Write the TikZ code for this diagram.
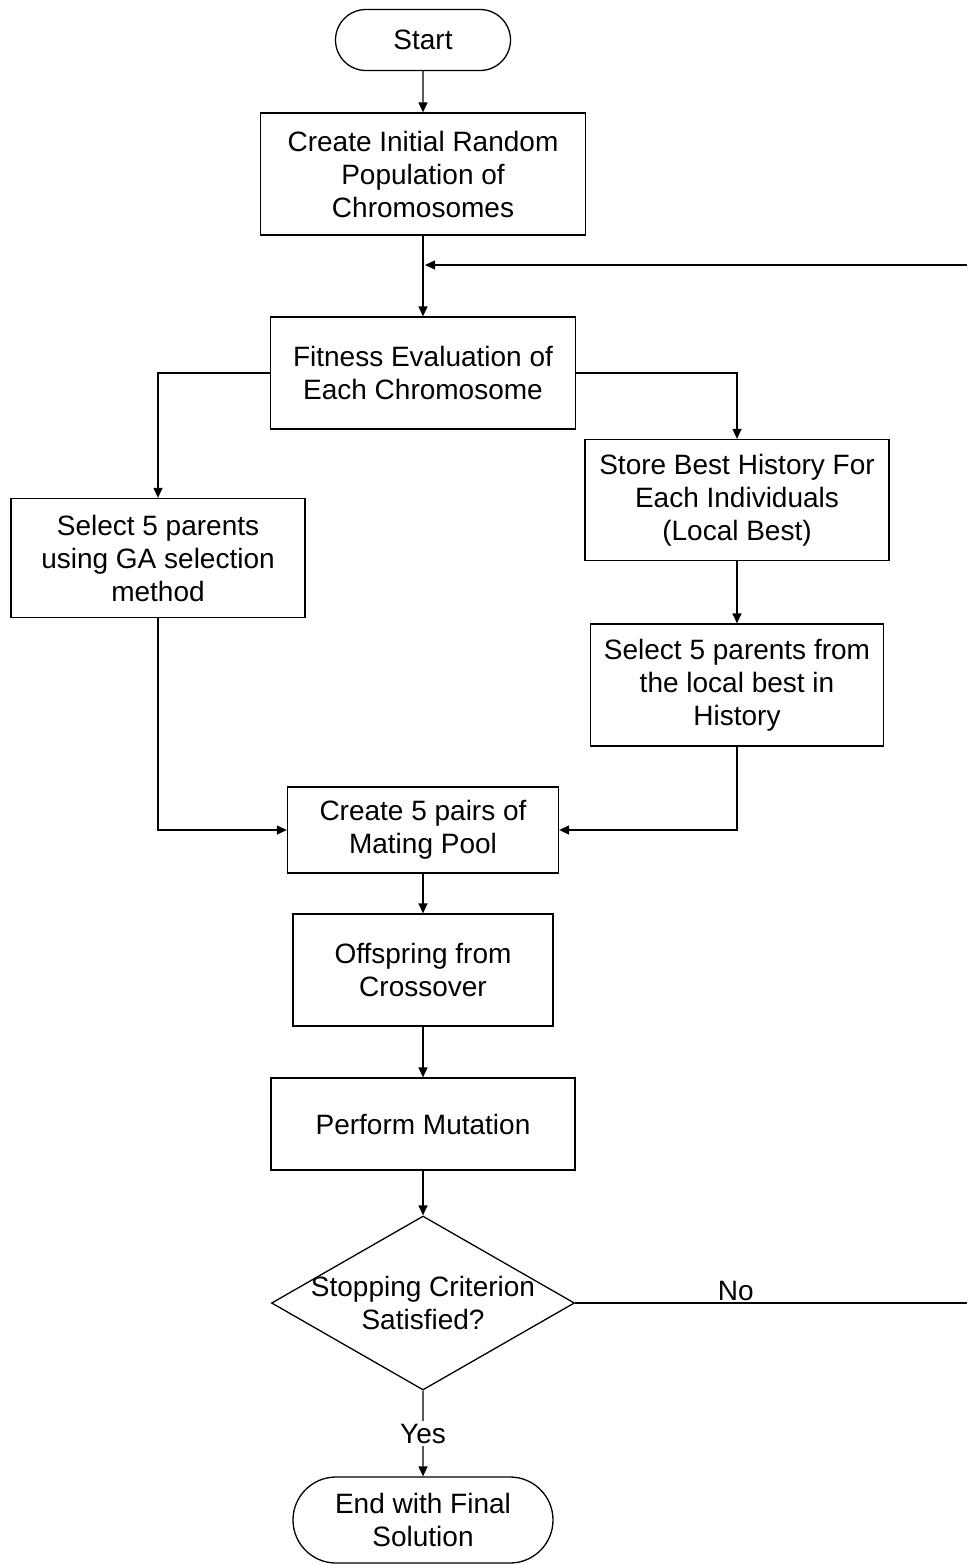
\documentclass[tikz,border=0pt]{standalone}
\usepackage{fontspec}
\setmainfont{Liberation Sans}
\usetikzlibrary{arrows.meta,shapes.geometric,shapes.misc}

\newcommand{\flowfont}{\fontsize{28}{33}\selectfont}

\begin{document}
\begin{tikzpicture}[x = 1pt, y = 1pt, line width = 1.3pt,
    >={Triangle[length=10pt, width=9pt]},
    box/.style   = {draw, rectangle, align = center, inner sep = 0pt, font = \flowfont},
    term/.style  = {draw, rounded rectangle, align = center, inner sep = 0pt, font = \flowfont},
    choice/.style = {draw, diamond, inner sep = 0pt, minimum width = 303, minimum height = 174}]

  \useasboundingbox (0,0) rectangle (967,-1564);

  % Start and initial population
  \node[term, minimum width = 175, minimum height = 61] (start) at (423, -40) {Start};
  \node[box, minimum width = 325, minimum height = 122] (init) at (423, -174)
    {Create Initial Random\\Population of\\Chromosomes};

  % Fitness
  \node[box, minimum width = 305, minimum height = 112] (fit) at (423, -373)
    {Fitness Evaluation of\\Each Chromosome};

  % The two selection branches
  \node[box, minimum width = 294, minimum height = 119] (ga) at (158, -558)
    {Select 5 parents\\using GA selection\\method};
  \node[box, minimum width = 304, minimum height = 121] (hist) at (737, -500)
    {Store Best History For\\Each Individuals\\(Local Best)};
  \node[box, minimum width = 293, minimum height = 122] (local) at (737, -685)
    {Select 5 parents from\\the local best in\\History};

  % Mating, crossover, mutation
  \node[box, minimum width = 271, minimum height = 86] (pool) at (423, -830)
    {Create 5 pairs of\\Mating Pool};
  \node[box, minimum width = 260, minimum height = 112] (cross) at (423, -970)
    {Offspring from\\Crossover};
  \node[box, minimum width = 304, minimum height = 92] (mut) at (423, -1124)
    {Perform Mutation};

  % Stopping test
  \node[choice] (stop) at (423, -1303) {};
  \node[align = center, font = \flowfont] (stoptxt) at (stop.center)
    {Stopping Criterion\\Satisfied?};

  \node[term, minimum width = 260, minimum height = 86] (end) at (423, -1520)
    {End with Final\\Solution};

  % Loop back from the right edge
  \coordinate (loopin) at (967, -265);
  \coordinate (noout) at (967, -1303);

  % Connectors
  \draw[->] (start) -- (init);
  \draw[->] (init) -- (fit);
  \draw[->] (loopin) -- ([xshift=2pt]loopin -| init.south);
  \draw[->] (fit.west) -| (ga.north);
  \draw[->] (fit.east) -| (hist.north);
  \draw[->] (hist) -- (local);
  \draw[->] (ga.south) |- (pool.west);
  \draw[->] (local.south) |- (pool.east);
  \draw[->] (pool) -- (cross);
  \draw[->] (cross) -- (mut);
  \draw[->] (mut) -- (stop.north);
  \draw[->] (stop.south) -- node[fill = white, inner sep = 3pt, font = \flowfont] (yes) {Yes} (end);
  \draw (stop.east) -- node[pos = 0.41, above, inner sep = 2pt, font = \flowfont] (no) {No} (noout);

\end{tikzpicture}
\end{document}
